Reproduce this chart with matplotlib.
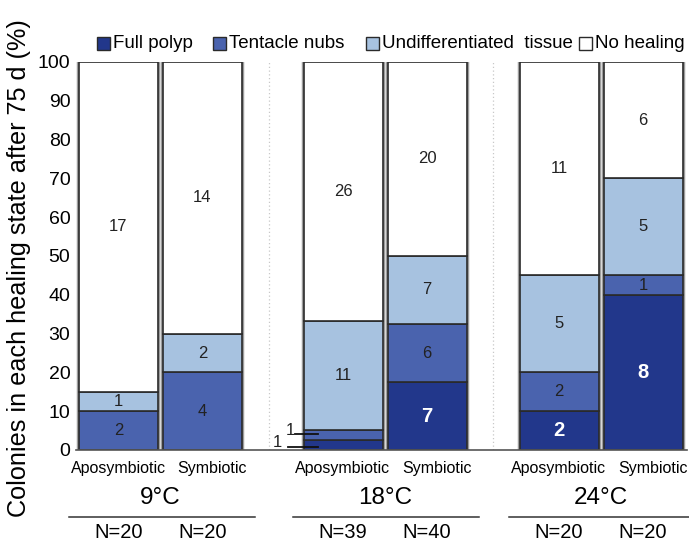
import matplotlib
matplotlib.use("Agg")
import matplotlib.pyplot as plt
from matplotlib.patches import Rectangle

plt.rcParams["font.family"] = ["Liberation Sans", "DejaVu Sans"]

# ── Data ───────────────────────────────────────────────────────────────────────
temps      = ["9°C", "18°C", "24°C"]
treatments = ["Aposymbiotic", "Symbiotic"]
n_colonies = [20, 20, 39, 40, 20, 20]
full_polyp = [0, 0, 1, 7, 2, 8]
tent_nubs  = [2, 4, 1, 6, 2, 1]
undiff     = [1, 2, 11, 7, 5, 5]
no_heal    = [17, 14, 26, 20, 11, 6]
states     = ["Full polyp", "Tentacle nubs", "Undifferentiated  tissue", "No healing"]

# ── Colours ────────────────────────────────────────────────────────────────────
C_FULL  = "#22378b"
C_NUBS  = "#4a63ae"
C_UNDIF = "#a7c2e0"
C_NONE  = "#ffffff"
C_EDGE  = "#2a2a2a"
colors  = [C_FULL, C_NUBS, C_UNDIF, C_NONE]

W, H = 689, 546
fig = plt.figure(figsize=(W / 100, H / 100), dpi=100)

# main axes: x in pixel-like units so layout is easy to match
ax = fig.add_axes([76 / W, 96 / H, (687 - 76) / W, (450 - 62) / H])
ax.set_xlim(76, 687)
ax.set_ylim(0, 100)

group_cx = [160.5, 385, 601]
offs     = [-42, 42]
bw       = 79
xs = [g + o for g in group_cx for o in offs]

series = [full_polyp, tent_nubs, undiff, no_heal]
pct = [[c / n * 100 for c, n in zip(s, n_colonies)] for s in series]

# grey outer frame behind each bar
ax.bar(xs, [100] * 6, width=bw, color="none", edgecolor="#9c9c9c", linewidth=3.2, zorder=1)

bottom = [0.0] * 6
for k, (vals, col) in enumerate(zip(pct, colors)):
    ax.bar(xs, vals, width=bw, bottom=bottom, color=col, edgecolor=C_EDGE,
           linewidth=1.2, zorder=2)
    for i, (x, v, b) in enumerate(zip(xs, vals, bottom)):
        cnt = series[k][i]
        if cnt == 0 or v < 4:
            continue
        if k == 0:
            ax.text(x, b + v / 2, str(cnt), ha="center", va="center", fontsize=14.5,
                    fontweight="bold", color="white", zorder=3)
        else:
            ax.text(x, b + v / 2, str(cnt), ha="center", va="center", fontsize=12,
                    color="#222222", zorder=3)
    bottom = [b + v for b, v in zip(bottom, vals)]

# small segments of 18°C aposymbiotic labelled outside the bar
i = 2
y_full = pct[0][i] / 2
y_nubs = pct[0][i] + pct[1][i] / 2
ax.plot([288, xs[i] - 25], [y_full - 0.4, y_full - 0.4], color="#111111", lw=1.3, zorder=4)
ax.plot([295, xs[i] - 25], [y_nubs + 0.2, y_nubs + 0.2], color="#111111", lw=1.3, zorder=4)
ax.text(277, y_full + 0.6, str(full_polyp[i]), ha="center", va="center",
        fontsize=12, color="#222222")
ax.text(290, y_nubs + 1.2, str(tent_nubs[i]), ha="center", va="center",
        fontsize=12, color="#222222")

# dotted separators between temperatures
for xsep in [269, 493]:
    ax.plot([xsep, xsep], [0, 100], ls=(0, (1, 2)), color="#c8c8c8", lw=0.9, zorder=0)

ax.set_yticks(range(0, 101, 10))
ax.tick_params(axis="y", length=0, pad=4, labelsize=14)
ax.set_xticks([])
for s in ["left", "right", "top"]:
    ax.spines[s].set_visible(False)
ax.spines["bottom"].set_color("#555555")
ax.spines["bottom"].set_linewidth(1.2)

# ── overlay for labels in pixel coordinates ────────────────────────────────────
ov = fig.add_axes([0, 0, 1, 1])
ov.set_xlim(0, W)
ov.set_ylim(H, 0)
ov.axis("off")

ov.text(19, 268, "Colonies in each healing state after 75 d (%)", rotation=90,
        ha="center", va="center", fontsize=18.2)

for gi, g in enumerate(group_cx):
    ov.text(g - 42, 468, treatments[0], ha="center", va="center", fontsize=11.5)
    ov.text(g + 52, 468, treatments[1], ha="center", va="center", fontsize=11.5)
    ov.text(g, 498, temps[gi], ha="center", va="center", fontsize=17.5)
    ov.plot([g - 92, g + 94], [517, 517], color="#333333", lw=1.1)
    for j in range(2):
        ov.text(g + offs[j], 532, f"N={n_colonies[gi * 2 + j]}", ha="center", va="center",
                fontsize=14.5)

# legend
leg_x = [97, 213, 366, 579]
for lx, lab, col in zip(leg_x, states, colors):
    ov.add_patch(Rectangle((lx, 37), 13, 13, facecolor=col, edgecolor=C_EDGE, lw=1))
    ov.text(lx + 16, 43.5, lab, ha="left", va="center", fontsize=13.5)

fig.savefig("out.png", dpi=100)
